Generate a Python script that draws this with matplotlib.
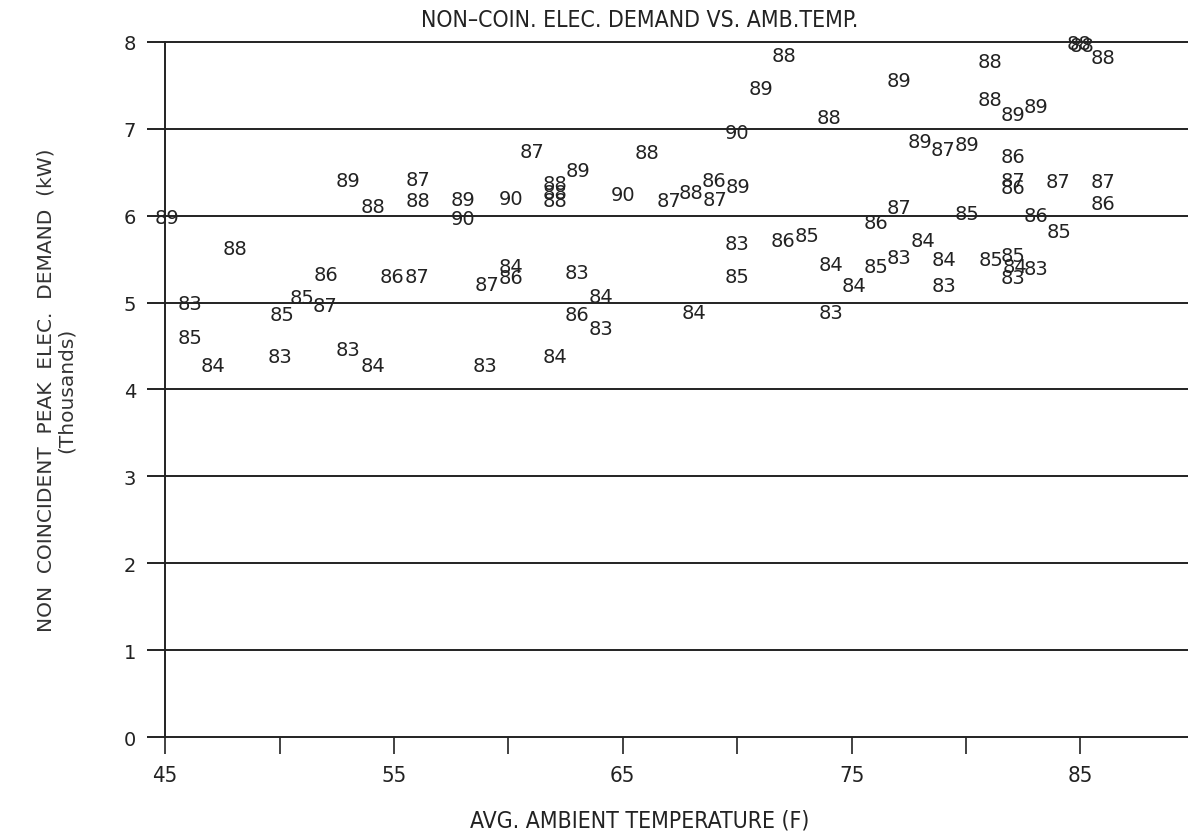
import matplotlib
matplotlib.use("Agg")
import matplotlib.pyplot as plt

# Average ambient temperature (F) and peak demand (thousands of kW), by year label
t83 = [46.1, 50.0, 53.0, 59.0, 63.0, 64.05, 70.0, 74.1, 77.05, 79.05, 82.05, 83.05]
d83 = [4.99, 4.38, 4.46, 4.27, 5.34, 4.70, 5.68, 4.89, 5.52, 5.19, 5.29, 5.39]

t84 = [47.1, 54.1, 60.1, 62.05, 64.05, 68.1, 74.1, 75.1, 78.1, 79.05, 82.15]
d84 = [4.27, 4.27, 5.41, 4.38, 5.07, 4.88, 5.44, 5.19, 5.71, 5.50, 5.42]

t85 = [46.1, 50.1, 51.0, 70.0, 73.05, 76.05, 80.05, 81.1, 82.05, 84.05]
d85 = [4.60, 4.86, 5.06, 5.30, 5.77, 5.42, 6.02, 5.50, 5.54, 5.82]

t86 = [52.05, 54.9, 60.1, 63.0, 69.0, 72.0, 76.05, 82.05, 82.05, 83.05, 86.0]
d86 = [5.32, 5.30, 5.29, 4.86, 6.40, 5.71, 5.92, 6.68, 6.32, 6.00, 6.14]

t87 = [52.0, 56.05, 56.0, 59.05, 61.05, 67.0, 69.05, 77.05, 79.0, 82.05, 84.0, 86.0]
d87 = [4.97, 6.42, 5.30, 5.21, 6.74, 6.17, 6.19, 6.09, 6.76, 6.40, 6.39, 6.39]

t88 = [48.05, 54.1, 56.05, 62.05, 62.05, 62.05, 66.05, 68.0, 72.05, 74.0, 81.05, 81.05, 84.95, 85.05, 86.0]
d88 = [5.62, 6.10, 6.17, 6.37, 6.27, 6.17, 6.73, 6.26, 7.84, 7.13, 7.77, 7.34, 7.98, 7.96, 7.82]

t89 = [45.07, 53.0, 58.0, 63.05, 70.05, 71.05, 77.05, 78.0, 80.05, 82.05, 83.05]
d89 = [5.98, 6.40, 6.18, 6.52, 6.33, 7.46, 7.55, 6.85, 6.82, 7.16, 7.25]

t90 = [58.0, 60.1, 65.0, 70.0]
d90 = [5.97, 6.20, 6.24, 6.96]

years = ["83", "84", "85", "86", "87", "88", "89", "90"]
temps = [t83, t84, t85, t86, t87, t88, t89, t90]
demands = [d83, d84, d85, d86, d87, d88, d89, d90]

x_ticks = [45, 55, 65, 75, 85]
y_ticks = [0, 1, 2, 3, 4, 5, 6, 7, 8]

ink = "#222222"

fig = plt.figure(figsize=(11.88, 8.37), dpi=100)
ax = fig.add_axes([0.139, 0.118, 0.861, 0.831])

for yr, ts, ds in zip(years, temps, demands):
    for t, d in zip(ts, ds):
        ax.text(t, d, yr, ha="center", va="center", fontsize=14,
                family="DejaVu Sans", color=ink, zorder=3)

ax.set_xlim(45, 89.7)
ax.set_ylim(0, 8)

for y in y_ticks:
    ax.axhline(y, color=ink, linewidth=1.4, zorder=1, clip_on=False)

for s in ["top", "right", "bottom"]:
    ax.spines[s].set_visible(False)
ax.spines["left"].set_linewidth(1.4)
ax.spines["left"].set_color(ink)

ax.set_xticks(x_ticks)
ax.set_xticks([50, 60, 70, 80], minor=True)
ax.set_xticklabels([str(v) for v in x_ticks], family="DejaVu Sans",
                   stretch="condensed", fontsize=16)
ax.tick_params(axis="x", which="both", length=12, width=1.2, direction="out",
               pad=8, colors=ink)
ax.set_yticks(y_ticks)
ax.set_yticklabels([str(v) for v in y_ticks], family="DejaVu Sans", fontsize=14)
ax.tick_params(axis="y", length=13, width=1.4, direction="out", pad=8,
               colors=ink)

ax.set_title("NON\u2013COIN. ELEC. DEMAND VS. AMB.TEMP.", family="DejaVu Sans",
             stretch="condensed", fontsize=16.5, pad=11, x=0.464, color=ink)
ax.set_xlabel("AVG. AMBIENT TEMPERATURE (F)", family="DejaVu Sans",
              stretch="condensed", fontsize=16.5, labelpad=17, x=0.464, color=ink)
ax.set_ylabel("NON  COINCIDENT  PEAK  ELEC.  DEMAND  (kW)\n(Thousands)",
              family="DejaVu Sans", fontsize=14.5, labelpad=34,
              linespacing=1.1, color="#333333")

fig.savefig("out.png", dpi=100)
